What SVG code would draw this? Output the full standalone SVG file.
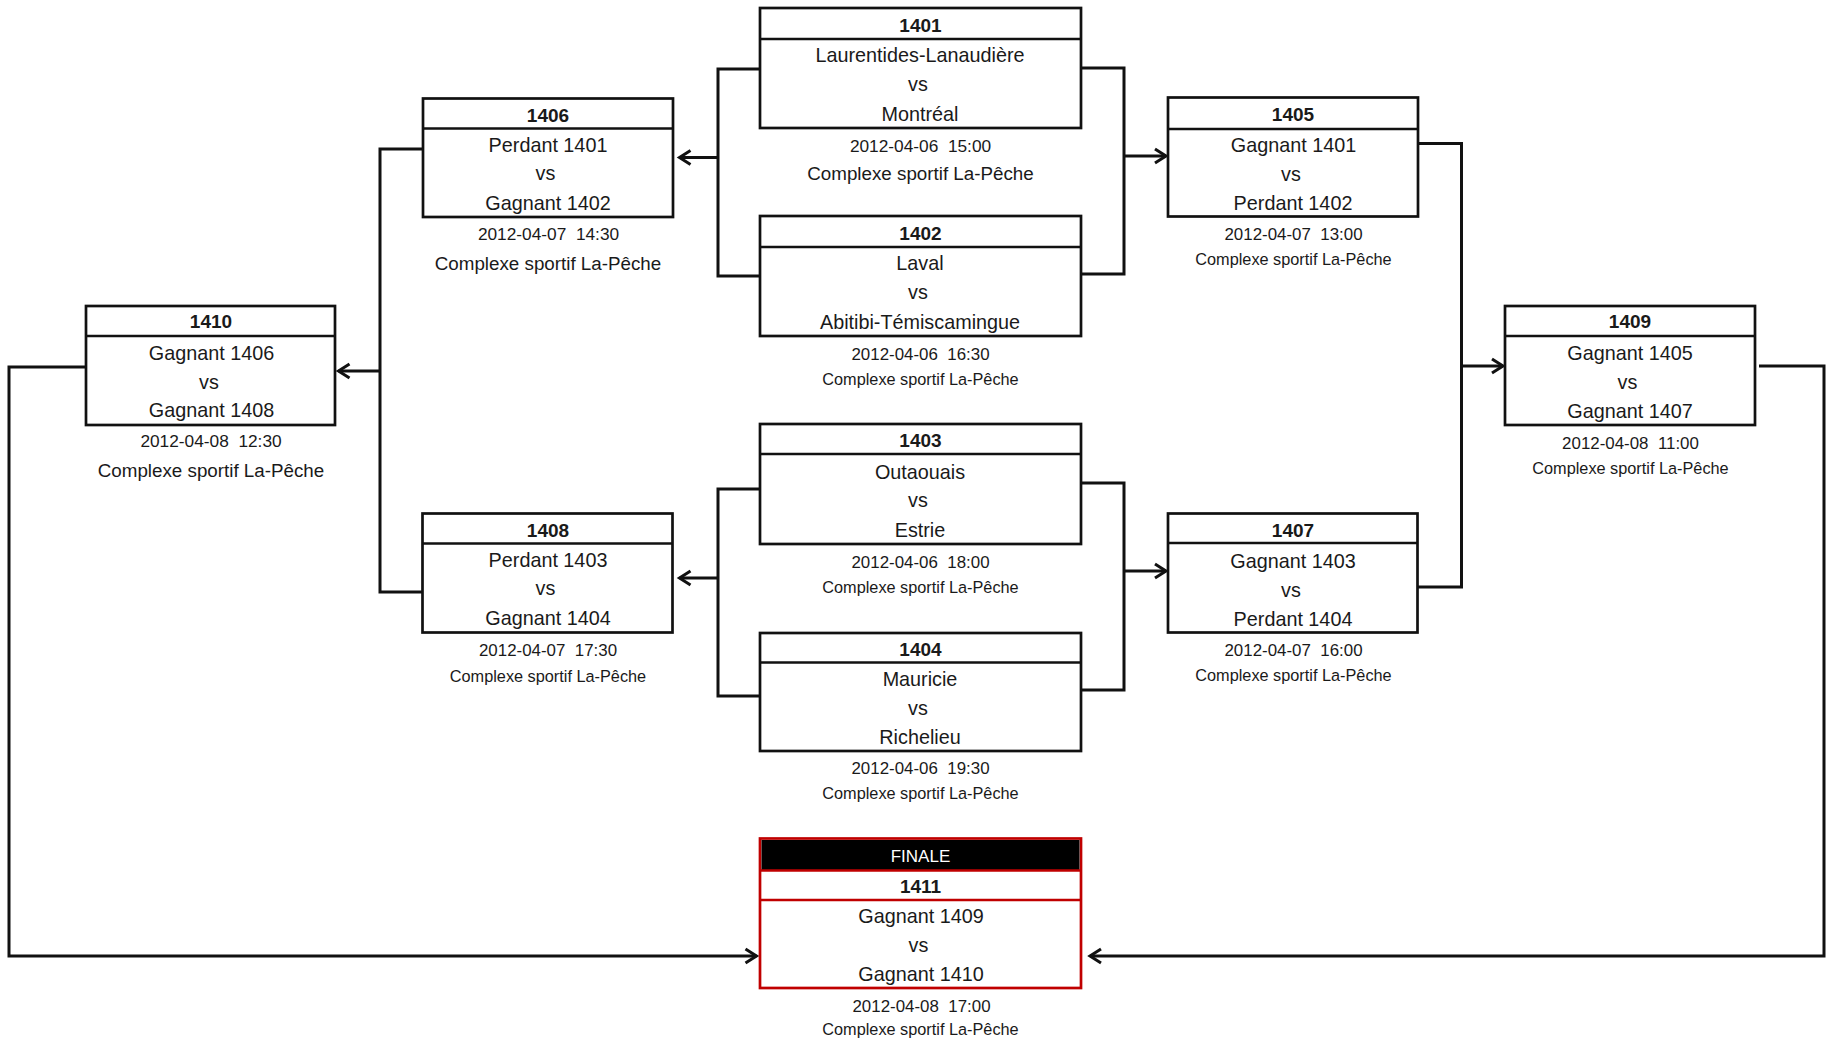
<svg xmlns="http://www.w3.org/2000/svg" width="1830" height="1042" viewBox="0 0 1830 1042">
<style>
text{font-family:"Liberation Sans",Arial,sans-serif;fill:#1a1a1a;text-anchor:middle}
.box{fill:#fff;stroke:#111;stroke-width:2.7}
.div{stroke:#111;stroke-width:2.7}
.hd{font-weight:bold;font-size:19px}
.tm{font-size:19.8px}
.dt{font-size:17.3px;white-space:pre}
.dts{font-size:16.9px;white-space:pre}
.lc{font-size:18.8px}
.lcs{font-size:16.3px}
.con{fill:none;stroke:#111;stroke-width:3;stroke-linejoin:miter}
.fbox{fill:#fff;stroke:#c00000;stroke-width:2.7}
.fdiv{stroke:#c00000;stroke-width:2.7}
</style>
<defs>
<marker id="arr" markerWidth="20" markerHeight="20" viewBox="-16 -10 20 20" refX="0" refY="0" orient="auto" markerUnits="userSpaceOnUse">
<path d="M-11,-7 L0,0 L-11,7" fill="none" stroke="#111" stroke-width="3"/>
</marker>
</defs>

<g id="connectors">
<path class="con" d="M760,69 H718 V276 H760"/>
<path class="con" d="M718,157.5 H679.5" marker-end="url(#arr)"/>
<path class="con" d="M1081,68 H1124 V274 H1081"/>
<path class="con" d="M1124,156 H1166" marker-end="url(#arr)"/>
<path class="con" d="M760,489 H718 V696 H760"/>
<path class="con" d="M718,578 H679.5" marker-end="url(#arr)"/>
<path class="con" d="M1081,483 H1124 V690 H1081"/>
<path class="con" d="M1124,571 H1166" marker-end="url(#arr)"/>
<path class="con" d="M423,149 H380 V592 H423"/>
<path class="con" d="M380,371 H338.5" marker-end="url(#arr)"/>
<path class="con" d="M1418,143.5 H1461.5 V587 H1415"/>
<path class="con" d="M1461.5,366 H1503" marker-end="url(#arr)"/>
<path class="con" d="M86,367 H9 V956 H756.5" marker-end="url(#arr)"/>
<path class="con" d="M1759,366 H1824 V956 H1090" marker-end="url(#arr)"/>
</g>

<g id="n1401">
<rect class="box" x="760" y="8" width="321" height="120"/>
<line class="div" x1="760" y1="39" x2="1081" y2="39"/>
<text class="hd" x="920.5" y="32">1401</text>
<text class="tm" x="920" y="62">Laurentides-Lanaudière</text>
<text class="tm" x="918" y="91">vs</text>
<text class="tm" x="920" y="121">Montréal</text>
<text class="dt" x="920.5" y="152">2012-04-06  15:00</text>
<text class="lc" x="920.5" y="180">Complexe sportif La-Pêche</text>
</g>

<g id="n1402">
<rect class="box" x="760" y="216" width="321" height="120"/>
<line class="div" x1="760" y1="247" x2="1081" y2="247"/>
<text class="hd" x="920.5" y="239.5">1402</text>
<text class="tm" x="920" y="270">Laval</text>
<text class="tm" x="918" y="299">vs</text>
<text class="tm" x="920" y="328.5">Abitibi-Témiscamingue</text>
<text class="dts" x="920.5" y="359.5">2012-04-06  16:30</text>
<text class="lcs" x="920.5" y="384.5">Complexe sportif La-Pêche</text>
</g>

<g id="n1403">
<rect class="box" x="760" y="424" width="321" height="120"/>
<line class="div" x1="760" y1="454" x2="1081" y2="454"/>
<text class="hd" x="920.5" y="447">1403</text>
<text class="tm" x="920" y="478.5">Outaouais</text>
<text class="tm" x="918" y="507">vs</text>
<text class="tm" x="920" y="537">Estrie</text>
<text class="dts" x="920.5" y="567.5">2012-04-06  18:00</text>
<text class="lcs" x="920.5" y="593">Complexe sportif La-Pêche</text>
</g>

<g id="n1404">
<rect class="box" x="760" y="633" width="321" height="118"/>
<line class="div" x1="760" y1="662.5" x2="1081" y2="662.5"/>
<text class="hd" x="920.5" y="655.5">1404</text>
<text class="tm" x="920" y="686">Mauricie</text>
<text class="tm" x="918" y="715">vs</text>
<text class="tm" x="920" y="743.5">Richelieu</text>
<text class="dts" x="920.5" y="773.5">2012-04-06  19:30</text>
<text class="lcs" x="920.5" y="798.5">Complexe sportif La-Pêche</text>
</g>

<g id="n1405">
<rect class="box" x="1168" y="97.5" width="250" height="119"/>
<line class="div" x1="1168" y1="129" x2="1418" y2="129"/>
<text class="hd" x="1293" y="121">1405</text>
<text class="tm" x="1293.5" y="152">Gagnant 1401</text>
<text class="tm" x="1291" y="180.5">vs</text>
<text class="tm" x="1293" y="209.5">Perdant 1402</text>
<text class="dts" x="1293.5" y="239.5">2012-04-07  13:00</text>
<text class="lcs" x="1293.5" y="265">Complexe sportif La-Pêche</text>
</g>

<g id="n1406">
<rect class="box" x="423" y="98.5" width="250" height="118.5"/>
<line class="div" x1="423" y1="128.5" x2="673" y2="128.5"/>
<text class="hd" x="548" y="121.5">1406</text>
<text class="tm" x="548" y="151.5">Perdant 1401</text>
<text class="tm" x="545.5" y="180">vs</text>
<text class="tm" x="548" y="209.5">Gagnant 1402</text>
<text class="dt" x="548.5" y="240">2012-04-07  14:30</text>
<text class="lc" x="548" y="270">Complexe sportif La-Pêche</text>
</g>

<g id="n1407">
<rect class="box" x="1168" y="513.5" width="249.5" height="119"/>
<line class="div" x1="1168" y1="543" x2="1417.5" y2="543"/>
<text class="hd" x="1293" y="536.5">1407</text>
<text class="tm" x="1293" y="567.5">Gagnant 1403</text>
<text class="tm" x="1291" y="596.5">vs</text>
<text class="tm" x="1293" y="626">Perdant 1404</text>
<text class="dts" x="1293.5" y="655.5">2012-04-07  16:00</text>
<text class="lcs" x="1293.5" y="681">Complexe sportif La-Pêche</text>
</g>

<g id="n1408">
<rect class="box" x="422.5" y="513.5" width="250" height="119"/>
<line class="div" x1="422.5" y1="543.5" x2="672.5" y2="543.5"/>
<text class="hd" x="548" y="536.5">1408</text>
<text class="tm" x="548" y="566.5">Perdant 1403</text>
<text class="tm" x="545.5" y="595">vs</text>
<text class="tm" x="548" y="625">Gagnant 1404</text>
<text class="dts" x="548" y="656">2012-04-07  17:30</text>
<text class="lcs" x="548" y="681.5">Complexe sportif La-Pêche</text>
</g>

<g id="n1409">
<rect class="box" x="1505" y="306" width="250" height="119"/>
<line class="div" x1="1505" y1="336" x2="1755" y2="336"/>
<text class="hd" x="1630" y="328">1409</text>
<text class="tm" x="1630" y="359.5">Gagnant 1405</text>
<text class="tm" x="1627.5" y="388.5">vs</text>
<text class="tm" x="1630" y="417.5">Gagnant 1407</text>
<text class="dts" x="1630.5" y="448.5">2012-04-08  11:00</text>
<text class="lcs" x="1630.5" y="473.5">Complexe sportif La-Pêche</text>
</g>

<g id="n1410">
<rect class="box" x="86" y="306" width="249" height="119"/>
<line class="div" x1="86" y1="336" x2="335" y2="336"/>
<text class="hd" x="211" y="328">1410</text>
<text class="tm" x="211.5" y="359.5">Gagnant 1406</text>
<text class="tm" x="209" y="388.5">vs</text>
<text class="tm" x="211.5" y="417">Gagnant 1408</text>
<text class="dt" x="211" y="447">2012-04-08  12:30</text>
<text class="lc" x="211" y="477">Complexe sportif La-Pêche</text>
</g>

<g id="n1411">
<rect class="fbox" x="760" y="838.5" width="321" height="149.5"/>
<rect x="761.5" y="840" width="318" height="30" fill="#000"/>
<line class="fdiv" x1="760" y1="870.5" x2="1081" y2="870.5"/>
<line class="fdiv" x1="760" y1="900" x2="1081" y2="900"/>
<text x="920.5" y="862" style="font-size:17px;fill:#fff">FINALE</text>
<text class="hd" x="920.5" y="893">1411</text>
<text class="tm" x="921" y="923">Gagnant 1409</text>
<text class="tm" x="918.5" y="952">vs</text>
<text class="tm" x="921" y="981">Gagnant 1410</text>
<text class="dts" x="921.5" y="1012">2012-04-08  17:00</text>
<text class="lcs" x="920.5" y="1035">Complexe sportif La-Pêche</text>
</g>
</svg>
